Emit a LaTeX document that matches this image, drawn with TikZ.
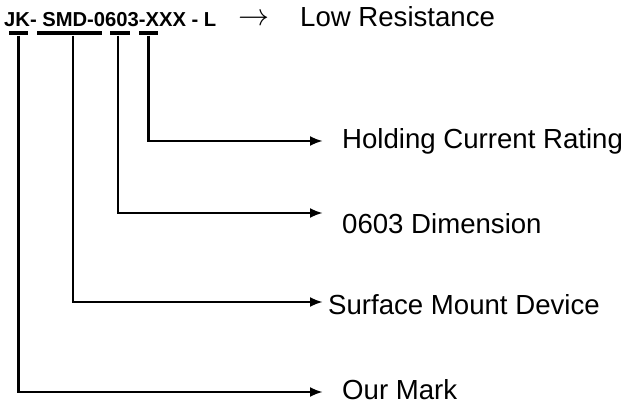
\RequirePackage{fix-cm}
\documentclass[tikz,border=0pt]{standalone}
\usepackage{fontspec}
\setmainfont{Liberation Sans}
\setsansfont{Liberation Sans}
\usetikzlibrary{arrows.meta,calc,positioning}

\begin{document}
\begin{tikzpicture}[x=1pt, y=-1pt, >={Latex[length=13pt,width=10pt]}, font=\sffamily]
  \definecolor{ink}{HTML}{000000}
  \tikzset{
    bar/.style={fill=ink, inner sep=0pt, minimum height=4pt},
    feed/.style={->, line width=2.6pt, color=ink},
    label/.style={anchor=base west, inner sep=0pt, text=ink, font=\fontsize{27.6}{30}\selectfont}
  }
  \useasboundingbox (0,0) rectangle (627,406);

  \node[anchor=base west, inner sep=0pt, text=ink, font=\bfseries\fontsize{20.2}{22}\selectfont] (code) at (4,27) {JK- SMD-0603-XXX - L};
  \node[anchor=base, inner sep=0pt, text=ink, font=\fontsize{31}{32}\selectfont] (maps) at (253.5,26) {$\rightarrow$};
  \node[label] (low) at (300,27) {Low Resistance};

  \node[bar, minimum width=19pt] (jk) at (18.5,33.5) {};
  \node[bar, minimum width=65pt] (smd) at (69.5,33.5) {};
  \node[bar, minimum width=20pt] (size) at (120,33.5) {};
  \node[bar, minimum width=19pt] (xxx) at (148.5,33.5) {};

  \coordinate (tipH) at (323,141);
  \coordinate (tipD) at (323,213);
  \coordinate (tipS) at (323,302);
  \coordinate (tipM) at (323,392);

  \node[label] (hold) at (342,149) {Holding Current Rating};
  \node[label] (dim) at (342,234) {0603 Dimension};
  \node[label] (surf) at (328,315) {Surface Mount Device};
  \node[label] (mark) at (342,399) {Our Mark};

  \draw[feed] (xxx.south) |- (tipH);
  \draw[feed] ([xshift=-2pt]size.south) |- (tipD);
  \draw[feed] ([xshift=3.5pt]smd.south) |- (tipS);
  \draw[feed] (jk.south) |- (tipM);
\end{tikzpicture}
\end{document}
